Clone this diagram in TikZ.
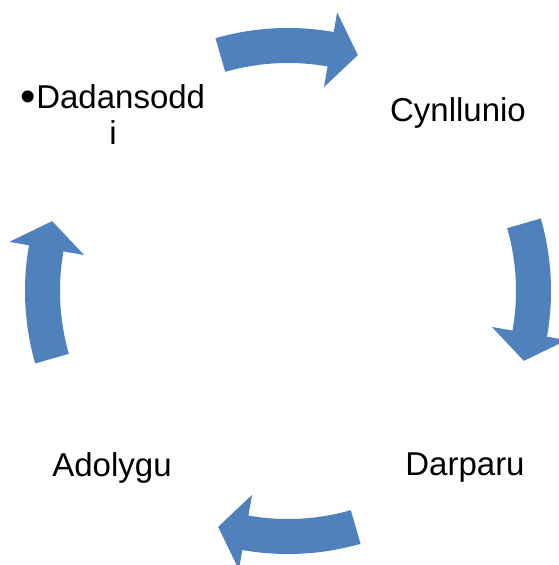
\documentclass[tikz,border=0pt]{standalone}
\usepackage{fontspec}
\setmainfont{Liberation Sans}
\usepackage{tikz}
\definecolor{cycleblue}{HTML}{4F81BD}
\tikzset{
    steplabel/.style={font=\fontsize{33}{36}\selectfont, inner sep=0pt, align=center},
    blockarrow/.style={fill=cycleblue, draw=none}
}
% one curved block arrow of the cycle, #1 = angle of its middle
\newcommand{\cyclearrow}[1]{%
    \fill[blockarrow] (#1+16:263) arc[start angle=#1+16, end angle=#1-10, radius=263]
        -- (#1-10:283) -- (#1-16.5:246) -- (#1-10:207)
        -- (#1-10:228) arc[start angle=#1-10, end angle=#1+16, radius=228] -- cycle;
}
\newcommand{\bigbullet}{{\fontsize{44}{36}\selectfont\raisebox{-2.5pt}{\textbullet}}}

\begin{document}
\begin{tikzpicture}[x=1pt,y=1pt]
        \useasboundingbox (0,0) rectangle (559,565);

        \begin{scope}[shift={(288,274)}]
            \foreach \ang in {90,0,-90,180} {\cyclearrow{\ang}}
        \end{scope}

        \draw (458,452) node[steplabel](cynllunio){Cynllunio};
        \draw (465, 97) node[steplabel](darparu){Darparu};
        \draw (112, 97) node[steplabel](adolygu){Adolygu};
        \draw (113,450) node[steplabel](dadansoddi){\bigbullet Dadansodd\\i};
    \end{tikzpicture}
\end{document}
